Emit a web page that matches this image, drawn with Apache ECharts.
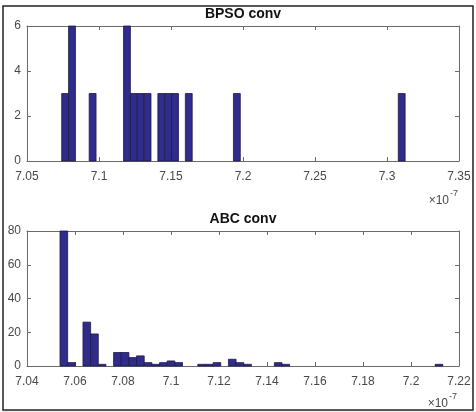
<!DOCTYPE html>
<html>
<head>
<meta charset="utf-8">
<script src="https://cdn.jsdelivr.net/npm/echarts@6/dist/echarts.min.js"></script>
<style>
  html, body { margin: 0; padding: 0; background: #fff; }
  #chart { width: 476px; height: 412px; }
</style>
</head>
<body>
<div id="chart"></div>
<script>
// histogram bins (x in units of 1e-7)
var bpsoStart = 7.0741;
var bpsoWidth = 0.00477;
var bpsoCounts = [3, 6, 0, 0, 3, 0, 0, 0, 0, 6,
                  3, 3, 3, 0, 3, 3, 3, 0, 3, 0,
                  0, 0, 0, 0, 0, 3, 0, 0, 0, 0,
                  0, 0, 0, 0, 0, 0, 0, 0, 0, 0,
                  0, 0, 0, 0, 0, 0, 0, 0, 0, 3];

var abcStart = 7.05375;
var abcWidth = 0.00319;
var abcCounts = [80, 2, 0, 26, 19, 1, 0, 8, 8, 5,
                 6, 2, 1, 2, 3, 2, 0, 0, 1, 1,
                 2, 0, 4, 2, 1, 0, 0, 0, 2, 1,
                 0, 0, 0, 0, 0, 0, 0, 0, 0, 0,
                 0, 0, 0, 0, 0, 0, 0, 0, 0, 1];

var bpsoXTicks = { min: 7.05, max: 7.35, step: 0.05 };
var bpsoYTicks = { min: 0, max: 6, step: 2 };
var abcXTicks = { min: 7.04, max: 7.22, step: 0.02 };
var abcYTicks = { min: 0, max: 80, step: 20 };

function bins(start, width, counts) {
  var out = [];
  counts.forEach(function (c, i) {
    if (c > 0) out.push([start + i * width, start + (i + 1) * width, c]);
  });
  return out;
}

var chart = echarts.init(document.getElementById('chart'));

var lineCol = '#6a6a6a';
var txtCol = '#484848';
var font = 'Liberation Sans, Arial, sans-serif';

function xAx(grid, t, pos) {
  return {
    type: 'value', gridIndex: grid, position: pos,
    min: t.min, max: t.max, interval: t.step,
    axisLine: { show: true, onZero: false, lineStyle: { color: lineCol, width: 1 } },
    axisTick: { show: true, inside: true, length: 4, lineStyle: { color: lineCol } },
    axisLabel: {
      show: pos === 'bottom', margin: 10, color: txtCol, fontSize: 12, fontFamily: font,
      formatter: function (v) { return String(+v.toFixed(2)); }
    },
    splitLine: { show: false }
  };
}
function yAx(grid, t, pos) {
  return {
    type: 'value', gridIndex: grid, position: pos,
    min: t.min, max: t.max, interval: t.step,
    axisLine: { show: true, onZero: false, lineStyle: { color: lineCol, width: 1 } },
    axisTick: { show: true, inside: true, length: 4, lineStyle: { color: lineCol } },
    axisLabel: { show: pos === 'left', margin: 6, color: txtCol, fontSize: 12, fontFamily: font },
    splitLine: { show: false }
  };
}

function renderBar(params, api) {
  var p0 = api.coord([api.value(0), api.value(2)]);
  var p1 = api.coord([api.value(1), 0]);
  return {
    type: 'rect',
    shape: { x: p0[0], y: p0[1], width: p1[0] - p0[0], height: p1[1] - p0[1] },
    style: { fill: '#302c8c', stroke: '#1d1b45', lineWidth: 0.8 }
  };
}

chart.setOption({
  animation: false,
  backgroundColor: '#fff',
  grid: [
    { left: 27, top: 26, width: 432, height: 135 },
    { left: 27, top: 231, width: 432, height: 135 }
  ],
  xAxis: [
    xAx(0, bpsoXTicks, 'bottom'), xAx(0, bpsoXTicks, 'top'),
    xAx(1, abcXTicks, 'bottom'), xAx(1, abcXTicks, 'top')
  ],
  yAxis: [
    yAx(0, bpsoYTicks, 'left'), yAx(0, bpsoYTicks, 'right'),
    yAx(1, abcYTicks, 'left'), yAx(1, abcYTicks, 'right')
  ],
  series: [
    {
      type: 'custom', xAxisIndex: 0, yAxisIndex: 0,
      renderItem: renderBar, encode: { x: [0, 1], y: 2 },
      data: bins(bpsoStart, bpsoWidth, bpsoCounts)
    },
    {
      type: 'custom', xAxisIndex: 2, yAxisIndex: 2,
      renderItem: renderBar, encode: { x: [0, 1], y: 2 },
      data: bins(abcStart, abcWidth, abcCounts)
    }
  ],
  graphic: [
    { type: 'rect', silent: true, shape: { x: 0, y: 411, width: 476, height: 1 }, style: { fill: '#ececec' } },
    { type: 'rect', silent: true, shape: { x: 3, y: 6, width: 470, height: 404 }, style: { fill: null, stroke: '#222', lineWidth: 1.5 } },
    { type: 'text', x: 243, y: 14, style: { text: 'BPSO conv', font: 'bold 14px ' + font, fill: '#111', textAlign: 'center', textVerticalAlign: 'middle' } },
    { type: 'text', x: 243, y: 219, style: { text: 'ABC conv', font: 'bold 14px ' + font, fill: '#111', textAlign: 'center', textVerticalAlign: 'middle' } },
    { type: 'text', x: 449, y: 201, style: { text: '\u00d710', font: '12px ' + font, fill: txtCol, textAlign: 'right', textVerticalAlign: 'middle' } },
    { type: 'text', x: 450, y: 194, style: { text: '-7', font: '9px ' + font, fill: txtCol, textAlign: 'left', textVerticalAlign: 'middle' } },
    { type: 'text', x: 448, y: 404, style: { text: '\u00d710', font: '12px ' + font, fill: txtCol, textAlign: 'right', textVerticalAlign: 'middle' } },
    { type: 'text', x: 449, y: 397, style: { text: '-7', font: '9px ' + font, fill: txtCol, textAlign: 'left', textVerticalAlign: 'middle' } }
  ]
});
</script>
</body>
</html>
